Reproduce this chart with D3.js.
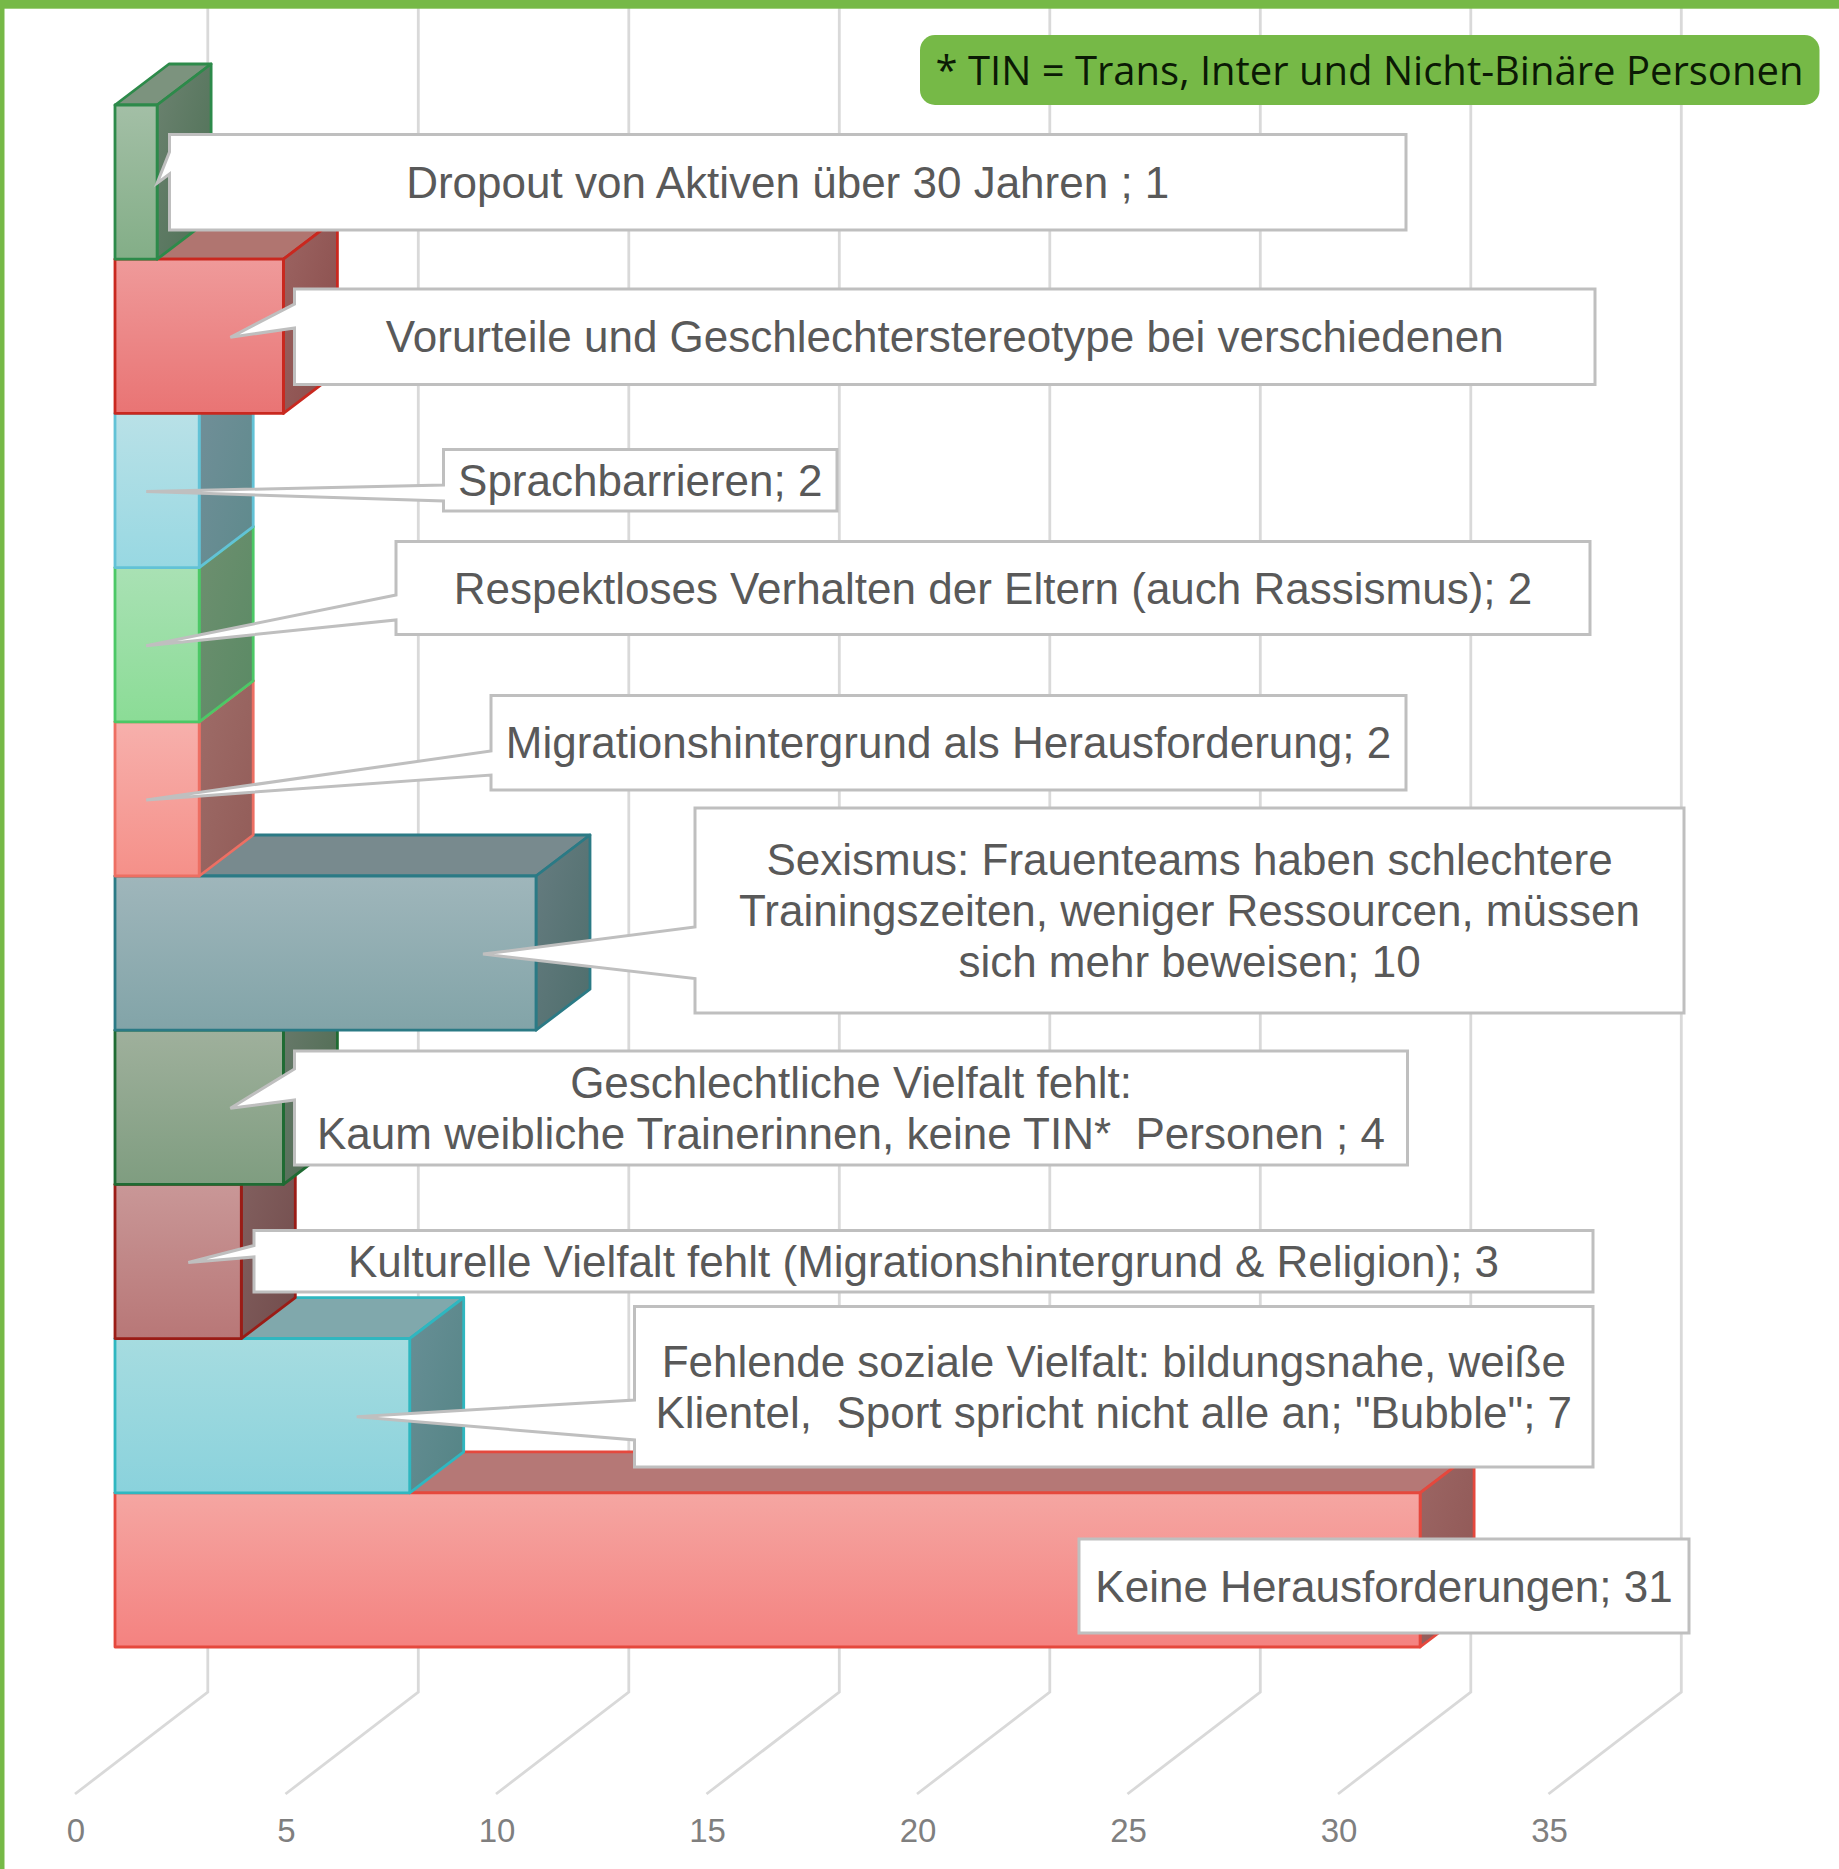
<!DOCTYPE html>
<html lang="de">
<head>
<meta charset="utf-8">
<script src="https://cdn.jsdelivr.net/npm/d3@7"></script>
<style>
  html, body { margin: 0; padding: 0; background: #fff; }
  svg { display: block; }
</style>
</head>
<body>
<div id="chart"></div>
<script>
const categories = [
  "Dropout", "Vorurteile", "Sprachbarrieren", "Respektlos", "Migration",
  "Sexismus", "Geschlecht", "Kulturell", "Sozial", "Keine"
];
const values = [1, 4, 2, 2, 2, 10, 4, 3, 7, 31];
const xTicks = [0, 5, 10, 15, 20, 25, 30, 35];
const labelLines = [
  ["Dropout von Aktiven über 30 Jahren ; 1"],
  ["Vorurteile und Geschlechterstereotype bei verschiedenen"],
  ["Sprachbarrieren; 2"],
  ["Respektloses Verhalten der Eltern (auch Rassismus); 2"],
  ["Migrationshintergrund als Herausforderung; 2"],
  ["Sexismus: Frauenteams haben schlechtere", "Trainingszeiten, weniger Ressourcen, müssen", "sich mehr beweisen; 10"],
  ["Geschlechtliche Vielfalt fehlt:", "Kaum weibliche Trainerinnen, keine TIN*  Personen ; 4"],
  ["Kulturelle Vielfalt fehlt (Migrationshintergrund & Religion); 3"],
  ["Fehlende soziale Vielfalt: bildungsnahe, weiße", "Klientel,  Sport spricht nicht alle an; \"Bubble\"; 7"],
  ["Keine Herausforderungen; 31"]
];
const noteText = "* TIN = Trans, Inter und Nicht-Binäre Personen";

// Farben: Vorderseite oben/unten, Rand, Deckel, Seite oben/unten
const frontTop = ["#a3bfa6", "#ef9a9a", "#b9e1e7", "#a9e1b4", "#f7b0ac", "#9fb6bb", "#9fb09c", "#c99797", "#a6dce0", "#f5a6a2"];
const frontBottom = ["#83ae87", "#e97474", "#98d8e2", "#8bdc96", "#f59089", "#82a4a8", "#7f9d80", "#b87777", "#8ad2dc", "#f48280"];
const strokes = ["#2d8a4a", "#c9281f", "#62c2d6", "#4cc866", "#ed6f63", "#2b7a85", "#1f6b33", "#9a1c16", "#2fb7c0", "#e5483d"];
const topFaces = ["#7c937e", "#b07570", "#7fa6ad", "#7aa081", "#ad7874", "#788a8e", "#75866f", "#8f6a6a", "#80a8ac", "#b57876"];
const sideTop = ["#6c8270", "#9c6462", "#728f99", "#6e8f70", "#9e6c68", "#667c80", "#6a7a6c", "#836160", "#688f96", "#9c6664"];
const sideBottom = ["#4c7054", "#884c4a", "#5e8a8c", "#5a8a64", "#925c58", "#4e6e6c", "#4a6a4e", "#724c4c", "#548485", "#8e5654"];

// Kasten der Beschriftung: x0, y0, x1, y1, dazu die Ansatzpunkte der Spitze an der linken Kante
const boxes = [
  [169.5, 134.5, 1406, 230, 152, 174],
  [294.5, 289, 1595, 384.5, 304, 328],
  [443.5, 449.5, 837, 511, 485, 501],
  [396, 541.5, 1590, 634.5, 595, 620],
  [491, 695.5, 1406, 790, 751, 775],
  [695, 808, 1684, 1013, 927, 978.5],
  [294.5, 1051, 1407.5, 1165, 1069, 1100],
  [254, 1230.5, 1593, 1292, 1245.5, 1257],
  [634.5, 1306.5, 1593, 1467, 1400, 1440],
  [1079, 1539, 1689, 1633, null, null]
];

const width = 1839;
const height = 1869;
const depthX = 54;
const depthY = 41;

const x = d3.scaleLinear().domain([0, 35]).range([115, 115 + 35 * 42.1]);
const y = d3.scaleBand().domain(categories).range([105, 1647]).padding(0);

const svg = d3.select("#chart")
  .append("svg")
  .attr("width", width)
  .attr("height", height)
  .style("background", "#fff");

const defs = svg.append("defs");
categories.forEach((c, i) => {
  const front = defs.append("linearGradient")
    .attr("id", `front-${i}`)
    .attr("x1", 0).attr("y1", 0).attr("x2", 0).attr("y2", 1);
  front.append("stop").attr("offset", "0%").attr("stop-color", frontTop[i]);
  front.append("stop").attr("offset", "100%").attr("stop-color", frontBottom[i]);

  const side = defs.append("linearGradient")
    .attr("id", `side-${i}`)
    .attr("x1", 0).attr("y1", 0).attr("x2", 1).attr("y2", 1);
  side.append("stop").attr("offset", "0%").attr("stop-color", sideTop[i]);
  side.append("stop").attr("offset", "100%").attr("stop-color", sideBottom[i]);
});

// Raster
const backX = t => x(t) + 92.8;
const floorBackY = 1692;
const floorFrontY = 1794;
const line = d3.line();

svg.append("g")
  .selectAll("path")
  .data(xTicks)
  .join("path")
  .attr("fill", "none")
  .attr("stroke", "#d9d9d9")
  .attr("stroke-width", 2.8)
  .attr("d", t => line([[backX(t), 0], [backX(t), floorBackY], [x(t) - 40, floorFrontY]]));

// Achse
const axis = svg.append("g")
  .attr("transform", `translate(-39.5, 1819)`)
  .call(d3.axisBottom(x).tickValues(xTicks).tickSize(0).tickPadding(0).tickFormat(d3.format("d")));
axis.select(".domain").remove();
axis.selectAll("text")
  .attr("fill", "#7f7f7f")
  .style("font-family", "'Liberation Sans', Arial, sans-serif")
  .style("font-size", "33px");

// Balken: von unten nach oben, damit die oberen die Deckel verdecken
const bars = svg.append("g")
  .selectAll("g")
  .data(categories.map((c, i) => i).reverse())
  .join("g")
  .attr("stroke", i => strokes[i])
  .attr("stroke-width", 2.8)
  .attr("stroke-linejoin", "round");

bars.append("path")
  .attr("fill", i => topFaces[i])
  .attr("d", i => {
    const t = y(categories[i]);
    return line([[x(0), t], [x(0) + depthX, t - depthY], [x(values[i]) + depthX, t - depthY], [x(values[i]), t]]) + "Z";
  });

bars.append("path")
  .attr("fill", i => `url(#side-${i})`)
  .attr("d", i => {
    const t = y(categories[i]);
    const b = t + y.bandwidth();
    const r = x(values[i]);
    return line([[r, t], [r + depthX, t - depthY], [r + depthX, b - depthY], [r, b]]) + "Z";
  });

bars.append("rect")
  .attr("x", x(0))
  .attr("y", i => y(categories[i]))
  .attr("width", i => x(values[i]) - x(0))
  .attr("height", y.bandwidth())
  .attr("fill", i => `url(#front-${i})`);

// Beschriftungen
function tipX(i) {
  return values[i] <= 1 ? x(values[i]) : x(values[i]) - 53;
}

const callouts = svg.append("g")
  .selectAll("g")
  .data(categories.map((c, i) => i))
  .join("g");

callouts.append("path")
  .attr("fill", "#fff")
  .attr("stroke", "#bfbfbf")
  .attr("stroke-width", 3)
  .attr("stroke-linejoin", "miter")
  .attr("d", i => {
    const [x0, y0, x1, y1, a, b] = boxes[i];
    const pts = [[x0, y0], [x1, y0], [x1, y1], [x0, y1]];
    if (a !== null) {
      pts.push([x0, b], [tipX(i), y(categories[i]) + y.bandwidth() / 2 + 1], [x0, a]);
    }
    return line(pts) + "Z";
  });

callouts.append("text")
  .attr("text-anchor", "middle")
  .attr("fill", "#595959")
  .style("font-family", "'Liberation Sans', Arial, sans-serif")
  .style("font-size", "44px")
  .style("white-space", "pre")
  .selectAll("tspan")
  .data(i => labelLines[i].map((l, k) => ({ l, k, i })))
  .join("tspan")
  .attr("x", d => (boxes[d.i][0] + boxes[d.i][2]) / 2)
  .attr("y", d => {
    const cy = (boxes[d.i][1] + boxes[d.i][3]) / 2;
    return cy + (d.k - (labelLines[d.i].length - 1) / 2) * 51 + 15.5;
  })
  .text(d => d.l);

// Hinweis oben rechts
svg.append("rect")
  .attr("x", 920).attr("y", 35)
  .attr("width", 899.5).attr("height", 70)
  .attr("rx", 15)
  .attr("fill", "#76b947");

svg.append("text")
  .attr("x", 1369.5).attr("y", 84.5)
  .attr("text-anchor", "middle")
  .attr("fill", "#0b1a05")
  .style("font-family", "'Open Sans', 'Noto Sans', sans-serif")
  .style("font-size", "40px")
  .text(noteText);

// Gruener Rand
svg.append("rect").attr("width", width).attr("height", 8.7).attr("fill", "#76b947");
svg.append("rect").attr("width", 4.5).attr("height", height).attr("fill", "#76b947");
</script>
</body>
</html>
